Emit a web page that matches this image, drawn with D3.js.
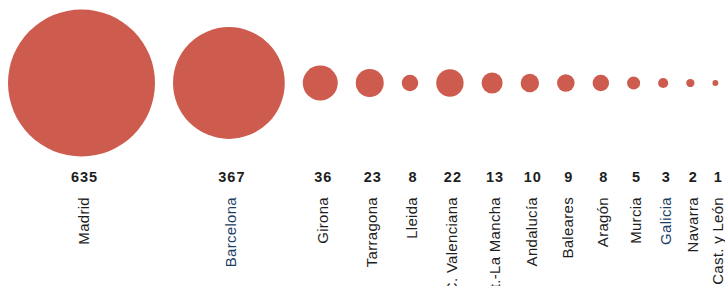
<!doctype html>
<html lang="es">
<head>
    <meta charset="UTF-8">
    <title>Burbujas por comunidad</title>
    <style>
        body { margin: 0; background: #fff; }
        svg { display: block; }
        text { font-family: "Liberation Sans", Arial, sans-serif; }
    </style>
</head>
<body>
    <svg width="725" height="286"></svg>
    <script src="https://cdn.jsdelivr.net/npm/d3@7"></script>
    <script>
        const regions = ['Madrid', 'Barcelona', 'Girona', 'Tarragona', 'Lleida', 'C. Valenciana',
            'Cast.-La Mancha', 'Andalucía', 'Baleares', 'Aragón', 'Murcia', 'Galicia', 'Navarra', 'Cast. y León']
        const values = [635, 367, 36, 23, 8, 22, 13, 10, 9, 8, 5, 3, 2, 1]
        const blueLabels = ['Barcelona', 'Galicia']

        const svg = d3.select('svg')
        const cy = 83
        const gap = 18

        const r = d3.scaleSqrt()
            .domain([0, d3.max(values)])
            .range([0, 73.5])

        // pack circles left to right, each separated by a fixed gap
        const nodes = []
        values.forEach((v, i) => {
            const prev = nodes[i - 1]
            const x = prev ? prev.x + prev.r + r(v) + gap : 8 + r(v)
            nodes.push({name: regions[i], value: v, r: r(v), x: x})
        })

        svg.append('g')
            .selectAll('circle')
            .data(nodes)
            .enter()
            .append('circle')
            .attr('cx', d => d.x)
            .attr('cy', cy)
            .attr('r', d => d.r)
            .attr('fill', '#cd5b4e')

        svg.append('g')
            .selectAll('text')
            .data(nodes)
            .enter()
            .append('text')
            .attr('x', d => d.x + 3)
            .attr('y', 182)
            .attr('text-anchor', 'middle')
            .attr('font-size', 14.5)
            .attr('font-weight', 'bold')
            .attr('fill', '#1e1e1e')
            .style('letter-spacing', '1px')
            .text(d => d.value)

        svg.append('g')
            .selectAll('text')
            .data(nodes)
            .enter()
            .append('text')
            .attr('transform', d => `translate(${d.x + 7.5},197) rotate(-90)`)
            .attr('text-anchor', 'end')
            .attr('font-size', 15)
            .attr('fill', d => blueLabels.includes(d.name) ? '#1d3f66' : '#1e1e1e')
            .style('letter-spacing', '0.3px')
            .text(d => d.name)
    </script>
</body>
</html>
